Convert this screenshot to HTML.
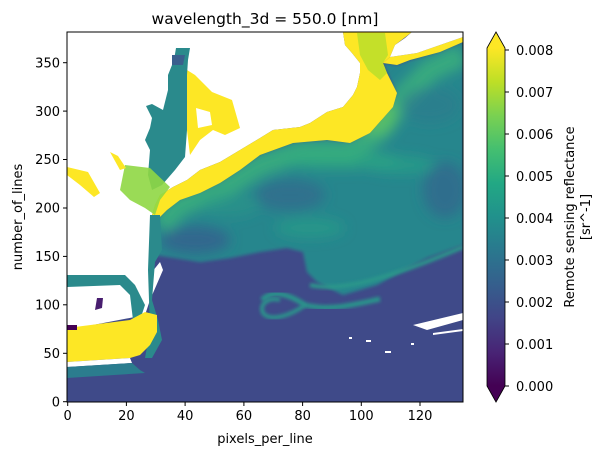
<!DOCTYPE html>
<html><head><meta charset="utf-8"><style>
html,body{margin:0;padding:0;background:#fff}
svg{display:block;font-family:"DejaVu Sans","Liberation Sans",sans-serif}
</style></head><body>
<svg width="600" height="455" viewBox="0 0 600 455" xmlns="http://www.w3.org/2000/svg">
<defs>
<linearGradient id="vir" x1="0" y1="1" x2="0" y2="0">
<stop offset="0" stop-color="#440154"/>
<stop offset="0.1" stop-color="#482475"/>
<stop offset="0.2" stop-color="#414487"/>
<stop offset="0.3" stop-color="#355f8d"/>
<stop offset="0.4" stop-color="#2a788e"/>
<stop offset="0.5" stop-color="#21918c"/>
<stop offset="0.6" stop-color="#22a884"/>
<stop offset="0.7" stop-color="#44bf70"/>
<stop offset="0.8" stop-color="#7ad151"/>
<stop offset="0.9" stop-color="#bddf26"/>
<stop offset="1" stop-color="#fde725"/>
</linearGradient>
<filter id="bl" x="-30%" y="-30%" width="160%" height="160%"><feGaussianBlur stdDeviation="6"/></filter>
<filter id="bl2"><feGaussianBlur stdDeviation="1.5"/></filter>
<clipPath id="cp"><rect x="67" y="32" width="396" height="370"/></clipPath>
<clipPath id="tc"><polygon points="157,220 167,210 180,200 200,193 220,183 240,170 260,155 293,143 327,140 350,143 370,133 393,107 397,93 387,73 383,63 397,65 410,60 440,52 463,42 463,245 427,258 400,272 377,285 343,295 317,282 307,272 303,252 287,248 260,252 230,258 200,262 175,258 155,255"/></clipPath>
</defs>

<g clip-path="url(#cp)">
<rect x="67" y="32" width="396" height="370" fill="#3f4a89"/>
<!-- teal region -->
<polygon filter="url(#bl2)" fill="#28868d" points="157,220 167,210 180,200 200,193 220,183 240,170 260,155 293,143 327,140 350,143 370,133 393,107 397,93 387,73 383,63 397,65 410,60 440,52 463,42 463,245 427,258 400,272 377,285 343,295 317,282 307,272 303,252 287,248 260,252 230,258 200,262 175,258 155,255"/>
<g clip-path="url(#tc)">
<g filter="url(#bl)">
<path d="M160,225 L180,205 L220,190 L260,165 L300,152 L350,152 L380,130 L400,100 L430,70 L463,55" stroke="#3fb67a" stroke-width="22" fill="none" opacity="0.75"/>
<ellipse cx="290" cy="195" rx="35" ry="16" fill="#32688d" opacity="0.7"/>
<ellipse cx="195" cy="240" rx="35" ry="14" fill="#35608d" opacity="0.8"/>
<ellipse cx="445" cy="190" rx="22" ry="28" fill="#33658d" opacity="0.7"/>
<ellipse cx="430" cy="105" rx="30" ry="18" fill="#2f7a8e" opacity="0.6"/>
<ellipse cx="340" cy="160" rx="60" ry="10" fill="#2fae7e" opacity="0.6"/>
<ellipse cx="375" cy="115" rx="22" ry="20" fill="#6acb5c" opacity="0.6"/>
<ellipse cx="400" cy="165" rx="35" ry="9" fill="#27a586" opacity="0.6"/>
<ellipse cx="310" cy="228" rx="35" ry="10" fill="#26a087" opacity="0.6"/>
<ellipse cx="230" cy="205" rx="30" ry="12" fill="#2a9a88" opacity="0.5"/>
</g>
</g>
<!-- filaments -->
<path d="M310,285 C340,292 385,280 463,247" stroke="#2a978a" stroke-width="4" fill="none" filter="url(#bl2)"/>
<path d="M262,300 C272,290 287,293 305,305 C330,311 352,305 380,299" stroke="#2a938b" stroke-width="5" fill="none" filter="url(#bl2)"/>
<path d="M305,305 C290,316 270,322 263,313 C259,304 268,297 280,300" stroke="#2a938b" stroke-width="4" fill="none" filter="url(#bl2)"/>

<!-- upper white land -->
<polygon fill="#fff" points="67,32 343,32 345,45 352,53 360,63 360,73 357,87 353,95 343,107 327,112 310,123 300,127 273,130 260,138 240,150 220,162 200,170 187,180 173,187 160,195 155,205 152,215 150,240 150,272 67,272"/>
<!-- yellow coastal band -->
<polygon fill="#fde725" points="343,32 345,45 352,53 360,63 360,73 357,87 353,95 343,107 327,112 310,123 300,127 273,130 260,138 240,150 220,162 200,170 187,180 173,187 160,195 155,205 152,215 157,220 167,210 180,200 200,193 220,183 240,170 260,155 293,143 327,140 350,143 370,133 393,107 397,93 387,73 383,63 390,57 395,45 412,32"/>
<polygon fill="#b5de2b" opacity="0.8" points="357,33 385,33 388,55 383,63 387,73 380,80 368,70 360,55"/>
<polygon fill="#fde725" points="390,57 417,53 440,45 463,37 463,42 440,52 410,60 397,65 383,63"/>
<polygon fill="#fff" points="412,32 463,32 463,37 440,45 417,53 390,57 395,45 405,38"/>
<!-- Chesapeake -->
<polygon fill="#fde725" points="187,70 195,75 212,92 232,100 240,128 225,135 213,130 200,140 190,155 187,130"/>
<polygon fill="#fff" points="196,108 210,112 212,125 198,128"/>
<polygon fill="#2a8a8c" points="176,48 190,48 188,60 187,75 187,100 187,130 185,157 175,170 162,185 152,190 148,175 150,150 145,140 150,128 152,118 146,106 152,104 163,110 168,90 168,75 174,60"/>
<polygon fill="#3a5f8d" points="172,55 185,55 183,65 172,65"/>
<polygon fill="#8fd744" opacity="0.9" points="125,165 150,168 170,187 160,200 155,215 145,208 130,200 120,190"/>
<polygon fill="#fde725" points="67,167 88,172 100,193 94,197 80,185 67,175"/>
<polygon fill="#fde725" points="110,152 118,156 126,168 120,170"/>
<!-- lower-left land -->
<polygon fill="#fff" points="67,272 152,272 160,262 163,270 150,300 145,315 67,330"/>
<polygon fill="#2b8a8c" points="150,215 160,215 162,250 155,262 152,300 158,320 162,340 152,358 145,358 150,330 148,270"/>
<polygon fill="#2b8a8c" points="67,275 125,275 135,285 145,305 140,320 133,320 130,295 120,285 67,287"/>
<polygon fill="#fde725" points="67,328 130,320 145,312 157,315 157,332 150,345 140,355 130,358 67,362"/>
<polygon fill="#fff" points="67,362 130,358 132,363 67,367"/>
<polygon fill="#2b7d8e" points="67,367 132,363 140,370 145,373 67,378"/>
<rect x="67" y="325" width="10" height="5" fill="#440154"/>
<polygon fill="#481d6f" points="97,298 103,298 102,308 95,310"/>
<!-- bottom-right white streaks -->
<polygon fill="#fff" points="413,325 463,313 463,320 427,330"/>
<polygon fill="#fff" points="433,333 463,329 463,331 433,335"/>
<rect x="349" y="337" width="3" height="2" fill="#fff"/>
<rect x="385" y="351" width="6" height="2" fill="#fff"/>
<rect x="411" y="343" width="3" height="2" fill="#fff"/>
<rect x="366" y="340" width="5" height="2" fill="#fff"/>
</g>
<rect x="67" y="32" width="396" height="370" fill="none" stroke="#000" stroke-width="1"/>

<g stroke="#000" stroke-width="1">
<line x1="63" y1="401.7" x2="67" y2="401.7"/>
<line x1="63" y1="353.3" x2="67" y2="353.3"/>
<line x1="63" y1="304.8" x2="67" y2="304.8"/>
<line x1="63" y1="256.4" x2="67" y2="256.4"/>
<line x1="63" y1="208" x2="67" y2="208"/>
<line x1="63" y1="159.5" x2="67" y2="159.5"/>
<line x1="63" y1="111.1" x2="67" y2="111.1"/>
<line x1="63" y1="62.7" x2="67" y2="62.7"/>
<line x1="67.7" y1="402" x2="67.7" y2="406"/>
<line x1="126.4" y1="402" x2="126.4" y2="406"/>
<line x1="185.1" y1="402" x2="185.1" y2="406"/>
<line x1="243.9" y1="402" x2="243.9" y2="406"/>
<line x1="302.6" y1="402" x2="302.6" y2="406"/>
<line x1="361.3" y1="402" x2="361.3" y2="406"/>
<line x1="420" y1="402" x2="420" y2="406"/>
</g>
<g font-size="13" fill="#000" text-anchor="end">
<text x="60" y="406.5">0</text>
<text x="60" y="358">50</text>
<text x="60" y="309.5">100</text>
<text x="60" y="261">150</text>
<text x="60" y="212.5">200</text>
<text x="60" y="164">250</text>
<text x="60" y="116">300</text>
<text x="60" y="67.5">350</text>
</g>
<g font-size="13" fill="#000" text-anchor="middle">
<text x="67.7" y="420">0</text>
<text x="126.4" y="420">20</text>
<text x="185.1" y="420">40</text>
<text x="243.9" y="420">60</text>
<text x="302.6" y="420">80</text>
<text x="361.3" y="420">100</text>
<text x="420" y="420">120</text>
<text x="265" y="443">pixels_per_line</text>
<text x="265" y="24" font-size="15.5">wavelength_3d = 550.0 [nm]</text>
<text transform="translate(22,217) rotate(-90)">number_of_lines</text>
<text transform="translate(574,217) rotate(-90)">Remote sensing reflectance</text>
<text transform="translate(590,217) rotate(-90)">[sr^-1]</text>
</g>

<rect x="487" y="48" width="18" height="338" fill="url(#vir)"/>
<polygon points="487,48 496,32 505,48" fill="#fde725"/>
<polygon points="487,386 496,402 505,386" fill="#440154"/>
<polygon points="487,48 496,32 505,48 505,386 496,402 487,386" fill="none" stroke="#000" stroke-width="0.8"/>
<g stroke="#000" stroke-width="1">
<line x1="505" y1="50" x2="509" y2="50"/>
<line x1="505" y1="92" x2="509" y2="92"/>
<line x1="505" y1="134" x2="509" y2="134"/>
<line x1="505" y1="176" x2="509" y2="176"/>
<line x1="505" y1="218" x2="509" y2="218"/>
<line x1="505" y1="260" x2="509" y2="260"/>
<line x1="505" y1="302" x2="509" y2="302"/>
<line x1="505" y1="344" x2="509" y2="344"/>
<line x1="505" y1="386" x2="509" y2="386"/>
</g>
<g font-size="13" fill="#000">
<text x="516" y="55">0.008</text>
<text x="516" y="97">0.007</text>
<text x="516" y="139">0.006</text>
<text x="516" y="181">0.005</text>
<text x="516" y="223">0.004</text>
<text x="516" y="265">0.003</text>
<text x="516" y="307">0.002</text>
<text x="516" y="349">0.001</text>
<text x="516" y="391">0.000</text>
</g>
</svg>
</body></html>
